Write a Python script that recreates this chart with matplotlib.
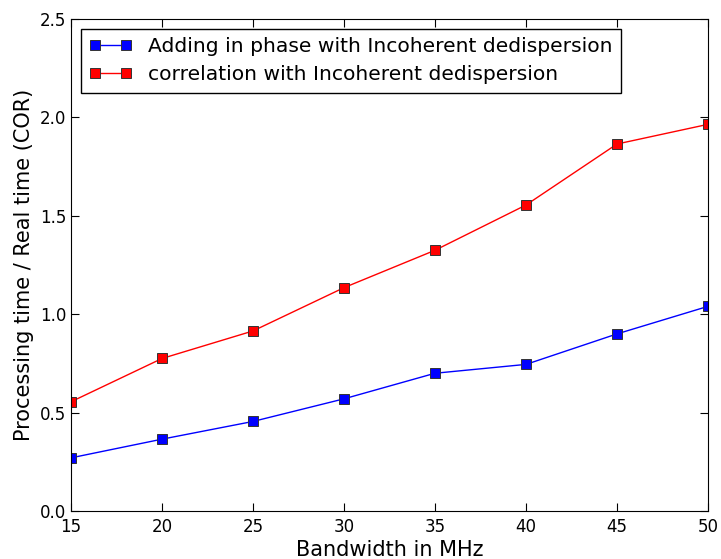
import numpy as np
import matplotlib
matplotlib.use('Agg')
import matplotlib.pyplot as plt

# Bandwidth (MHz) and processing/real time ratios
bandwidth   = [15, 20, 25, 30, 35, 40, 45, 50]
addPhase    = [0.27, 0.365, 0.455, 0.57, 0.70, 0.745, 0.90, 1.04]
correlation = [0.555, 0.775, 0.915, 1.135, 1.325, 1.555, 1.865, 1.965]

plt.rcParams['font.family'] = 'DejaVu Sans'

fig = plt.figure(figsize=(7.21, 5.59), dpi=100)
ax  = fig.add_axes([0.0985, 0.0859, 0.8835, 0.880])

ax.plot(bandwidth, addPhase, 's-', color='blue', markersize=7,
        markeredgecolor='#333333', markeredgewidth=0.7, linewidth=1,
        label='Adding in phase with Incoherent dedispersion')
ax.plot(bandwidth, correlation, 's-', color='red', markersize=7,
        markeredgecolor='#333333', markeredgewidth=0.7, linewidth=1,
        label='correlation with Incoherent dedispersion')

ax.set_xlim(15, 50)
ax.set_ylim(0, 2.5)
ax.set_xticks(np.arange(15, 51, 5))
ax.set_yticks(np.arange(0, 2.51, 0.5))
ax.tick_params(direction='in', top=True, right=True, length=6, labelsize=12)
ax.tick_params(axis='x', pad=5)
ax.set_xlabel('Bandwidth in MHz', fontsize=15, labelpad=3)
ax.set_ylabel('Processing time / Real time (COR)', fontsize=15)

leg = ax.legend(loc='upper left', numpoints=2, fontsize=14.6, fancybox=False,
                framealpha=1, edgecolor='black', borderaxespad=0.5,
                handlelength=2.1, labelspacing=0.45)
leg.get_frame().set_linewidth(1)

plt.savefig('out.png', dpi=100)
plt.close()
